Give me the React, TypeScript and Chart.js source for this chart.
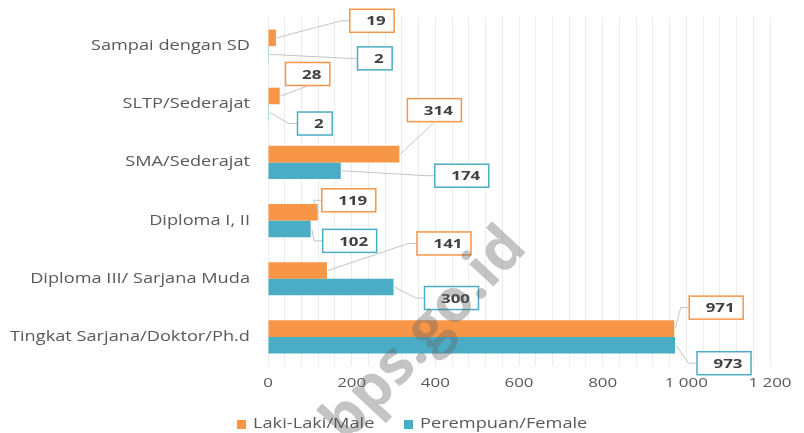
import React, { useEffect, useRef } from "react";
import { Chart, registerables } from "chart.js";

Chart.register(...registerables);

const categories = [
  "Sampai dengan SD",
  "SLTP/Sederajat",
  "SMA/Sederajat",
  "Diploma I, II",
  "Diploma III/ Sarjana Muda",
  "Tingkat Sarjana/Doktor/Ph.d",
];
const maleValues = [19, 28, 314, 119, 141, 971];
const femaleValues = [2, 2, 174, 102, 300, 973];
const seriesNames = ["Laki-Laki/Male", "Perempuan/Female"];
const xTickMin = 0;
const xTickMax = 1200;

// callout offsets (pixels from bar end) for the data-label boxes
const maleLabelOffsets = [
  [96, -17], [28, -22], [35, -44], [31, -12], [117, -27], [42, -21],
];
const femaleLabelOffsets = [
  [106, 4], [46, 11], [121, 5], [39, 12], [58, 11], [49, 18],
];

const ORANGE = "#F79646";
const TEAL = "#4BACC6";
const FONT = "'Open Sans', 'Noto Sans', sans-serif";
const STRETCH = 1.3;

const fmt = (v: number) => {
  const s = String(v);
  return s.length > 3 ? s.slice(0, s.length - 3) + " " + s.slice(-3) : s;
};

const calloutPlugin = {
  id: "callouts",
  afterDatasetsDraw(chart: any) {
    const ctx = chart.ctx;
    const offsets = [maleLabelOffsets, femaleLabelOffsets];
    ctx.save();
    ctx.font = `bold 13px ${FONT}`;
    chart.data.datasets.forEach((ds: any, di: number) => {
      const meta = chart.getDatasetMeta(di);
      meta.data.forEach((el: any, i: number) => {
        const v = ds.data[i];
        const text = fmt(v);
        const [dx, dy] = offsets[di][i];
        const cx = el.x + dx;
        const cy = el.y + dy;
        const tw = ctx.measureText(text).width;
        const w = tw + 26;
        const h = 24;
        const left = cx - w / 2;
        const top = cy - h / 2;
        ctx.strokeStyle = "#c4c4c4";
        ctx.lineWidth = 1;
        ctx.beginPath();
        ctx.moveTo(el.x + 1, el.y);
        if (left - el.x < 10 && Math.abs(dy) > h / 2) {
          const ey = dy < 0 ? top + h : top;
          ctx.lineTo(cx, ey);
        } else {
          ctx.lineTo(left - 8, cy);
          ctx.lineTo(left, cy);
        }
        ctx.stroke();
        ctx.fillStyle = "#ffffff";
        ctx.fillRect(left, top, w, h);
        ctx.strokeStyle = ds.backgroundColor;
        ctx.lineWidth = 1.5;
        ctx.strokeRect(left + 0.5, top + 0.5, w - 1, h - 1);
        ctx.fillStyle = "#404040";
        ctx.textAlign = "right";
        ctx.textBaseline = "middle";
        ctx.fillText(text, left + w - 9, cy + 1);
      });
    });
    ctx.restore();
  },
};

const legendPlugin = {
  id: "customLegend",
  afterDraw(chart: any) {
    const ctx = chart.ctx;
    ctx.save();
    ctx.font = `14px ${FONT}`;
    ctx.textBaseline = "middle";
    ctx.textAlign = "left";
    const y = 424;
    const starts = [237, 404];
    chart.data.datasets.forEach((ds: any, i: number) => {
      const x = starts[i];
      ctx.fillStyle = ds.backgroundColor;
      ctx.fillRect(x, y - 4, 9, 9);
      ctx.fillStyle = "#595959";
      ctx.fillText(ds.label, x + 16, y);
    });
    ctx.restore();
  },
};

const watermarkPlugin = {
  id: "watermark",
  afterDraw(chart: any) {
    const ctx = chart.ctx;
    const rawFill = (ctx as any).__rawFillText || ctx.fillText;
    ctx.save();
    ctx.translate(425, 335);
    ctx.rotate((-47 * Math.PI) / 180);
    ctx.font = `bold 60px ${FONT}`;
    ctx.fillStyle = "rgba(100,100,100,0.38)";
    ctx.textAlign = "center";
    ctx.textBaseline = "middle";
    rawFill.call(ctx, "bps.go.id", 0, 0);
    ctx.restore();
  },
};

function stretchContext(ctx: any) {
  if (ctx.__rawFillText) return;
  const rawFill = ctx.fillText;
  const rawMeasure = ctx.measureText;
  ctx.__rawFillText = rawFill;
  ctx.fillText = function (text: string, x: number, y: number) {
    this.save();
    this.translate(x, y);
    this.scale(STRETCH, 1);
    rawFill.call(this, text, 0, 0);
    this.restore();
  };
  ctx.measureText = function (text: string) {
    const m = rawMeasure.call(this, text);
    return {
      width: m.width * STRETCH,
      actualBoundingBoxAscent: m.actualBoundingBoxAscent,
      actualBoundingBoxDescent: m.actualBoundingBoxDescent,
      actualBoundingBoxLeft: m.actualBoundingBoxLeft * STRETCH,
      actualBoundingBoxRight: m.actualBoundingBoxRight * STRETCH,
    };
  };
}

export default function App() {
  const ref = useRef<HTMLCanvasElement | null>(null);
  useEffect(() => {
    document.body.style.margin = "0";
    const canvas = ref.current as HTMLCanvasElement;
    stretchContext(canvas.getContext("2d"));
    const chart = new Chart(canvas, {
      type: "bar",
      data: {
        labels: categories,
        datasets: [
          { label: seriesNames[0], data: maleValues, backgroundColor: ORANGE },
          { label: seriesNames[1], data: femaleValues, backgroundColor: TEAL },
        ],
      },
      options: {
        indexAxis: "y",
        animation: false,
        responsive: false,
        layout: { padding: { top: 17, right: 34, bottom: 37, left: 0 } },
        datasets: { bar: { categoryPercentage: 0.57, barPercentage: 1 } },
        plugins: {
          legend: { display: false },
          tooltip: { enabled: false },
        },
        scales: {
          y: {
            grid: { display: false },
            border: { display: false },
            ticks: {
              color: "#595959",
              font: { family: FONT, size: 14 },
              padding: 10,
            },
            afterFit(s: any) {
              s.width = 268;
              s.paddingTop = 0;
              s.paddingBottom = 0;
            },
          },
          x: {
            min: xTickMin,
            max: xTickMax,
            grid: { color: "#ececec", drawTicks: false },
            border: { display: false },
            ticks: {
              stepSize: 40,
              autoSkip: false,
              maxRotation: 0,
              color: "#595959",
              font: { family: FONT, size: 13 },
              padding: 9,
              callback: (v: any) => (Number(v) % 200 === 0 ? fmt(Number(v)) : ""),
            },
            afterFit(s: any) {
              s.height = 30;
              s.paddingLeft = 0;
              s.paddingRight = 0;
            },
          },
        },
      },
      plugins: [calloutPlugin, watermarkPlugin, legendPlugin],
    } as any);
    return () => chart.destroy();
  }, []);
  return (
    <div style={{ width: 804, height: 433 }}>
      <canvas ref={ref} width={804} height={433} style={{ display: "block" }} />
    </div>
  );
}
